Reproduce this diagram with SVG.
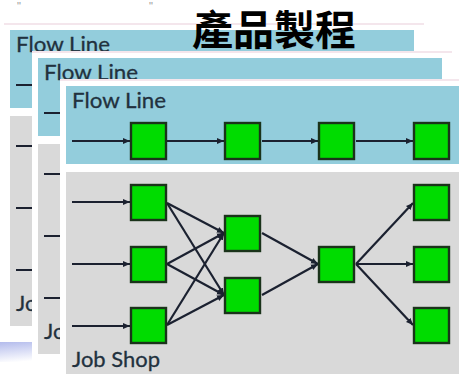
<svg xmlns="http://www.w3.org/2000/svg" xmlns:xlink="http://www.w3.org/1999/xlink" width="459" height="374" viewBox="0 0 459 374">
  <defs>
    <style>
      .frame { fill: #ffffff; }
      .rim { fill: #f4e6ec; }
      .band { fill: #93cddc; }
      .body { fill: #d9d9d9; }
      .lbl { font-family: Lato, "Liberation Sans", Arial, sans-serif; font-size: 22px; fill: #22313e; stroke: #22313e; stroke-width: 0.3; }
      .title { font-family: "Liberation Sans", "Noto Sans CJK TC", sans-serif; font-size: 41px; font-weight: 700; fill: #000000; }
      .tick { font-family: "Liberation Sans", sans-serif; font-size: 11px; fill: #9a9a9a; }
      .wire { stroke: #1b2130; stroke-width: 2.2; fill: none; }
      .stub { stroke: #1b2130; stroke-width: 2.2; }
      .box rect { fill: #00dc00; stroke: #1a331a; stroke-width: 2.4; }
    </style>
    <marker id="arrow" markerUnits="userSpaceOnUse" markerWidth="7" markerHeight="7" refX="7" refY="3.5" orient="auto">
      <path d="M0,0.5 L7,3.5 L0,6.5 z" fill="#1b2130"/>
    </marker>
    <linearGradient id="fade" x1="0" y1="0" x2="0.3" y2="1">
      <stop offset="0" stop-color="#b3bbec"/>
      <stop offset="1" stop-color="#ffffff"/>
    </linearGradient>
    <!-- shared slide card: white frame, blue header band, grey body -->
    <g id="card">
      <rect class="frame" x="0" y="0" width="420" height="310"/>
      <rect class="rim" x="0" y="0" width="420" height="2"/>
      <rect class="band" x="6" y="7" width="404" height="78"/>
      <rect class="body" x="6" y="93" width="404" height="210"/>
    </g>
  </defs>

  <rect width="459" height="374" fill="#ffffff"/>

  <!-- small marks along the top edge -->
  <text class="tick" x="17" y="10">"</text>
  <text class="tick" x="149" y="10">"</text>

  <!-- soft bar under the stack -->
  <rect x="0" y="342" width="64" height="20" fill="url(#fade)"/>

  <!-- back card -->
  <g id="card-back">
    <use xlink:href="#card" x="4" y="23"/>
    <text class="lbl" x="16" y="52" textLength="94" lengthAdjust="spacingAndGlyphs">Flow Line</text>
    <line class="stub" x1="16" y1="85" x2="60" y2="85"/>
    <line class="stub" x1="16" y1="146" x2="60" y2="146"/>
    <line class="stub" x1="16" y1="208" x2="60" y2="208"/>
    <line class="stub" x1="16" y1="270" x2="60" y2="270"/>
    <text class="lbl" x="16" y="311" textLength="88" lengthAdjust="spacingAndGlyphs">Job Shop</text>
  </g>

  <!-- middle card -->
  <g id="card-middle">
    <use xlink:href="#card" x="32" y="51"/>
    <text class="lbl" x="44" y="80" textLength="94" lengthAdjust="spacingAndGlyphs">Flow Line</text>
    <line class="stub" x1="44" y1="113" x2="90" y2="113"/>
    <line class="stub" x1="44" y1="174" x2="90" y2="174"/>
    <line class="stub" x1="44" y1="236" x2="90" y2="236"/>
    <line class="stub" x1="44" y1="298" x2="90" y2="298"/>
    <text class="lbl" x="44" y="339" textLength="88" lengthAdjust="spacingAndGlyphs">Job Shop</text>
  </g>

  <!-- front card -->
  <g id="card-front">
    <use xlink:href="#card" x="60" y="79"/>
    <text class="lbl" x="72" y="108" textLength="94" lengthAdjust="spacingAndGlyphs">Flow Line</text>
    <text class="lbl" x="72" y="367" textLength="88" lengthAdjust="spacingAndGlyphs">Job Shop</text>
  </g>

  <!-- connectors -->
  <g id="connectors" class="wire" marker-end="url(#arrow)">
    <!-- flow line -->
    <line x1="72" y1="141" x2="130" y2="141"/>
    <line x1="167" y1="141" x2="224" y2="141"/>
    <line x1="262" y1="141" x2="318" y2="141"/>
    <line x1="356" y1="141" x2="413" y2="141"/>
    <!-- job shop inputs -->
    <line x1="72" y1="202" x2="130" y2="202"/>
    <line x1="72" y1="264" x2="130" y2="264"/>
    <line x1="72" y1="326" x2="130" y2="326"/>
    <!-- column 1 to column 2 -->
    <line x1="167" y1="203" x2="224" y2="233"/>
    <line x1="167" y1="203" x2="224" y2="295"/>
    <line x1="167" y1="264" x2="224" y2="233"/>
    <line x1="167" y1="264" x2="224" y2="295"/>
    <line x1="167" y1="325" x2="224" y2="233"/>
    <line x1="167" y1="325" x2="224" y2="295"/>
    <!-- column 2 to centre -->
    <line x1="262" y1="233" x2="318" y2="264"/>
    <line x1="262" y1="295" x2="318" y2="264"/>
    <!-- centre to outputs -->
    <line x1="356" y1="264" x2="413" y2="203"/>
    <line x1="356" y1="264" x2="413" y2="264"/>
    <line x1="356" y1="264" x2="413" y2="325"/>
  </g>

  <!-- flow line stations -->
  <g id="flow-1" class="box"><rect x="131" y="123" width="35" height="36"/></g>
  <g id="flow-2" class="box"><rect x="225" y="123" width="35" height="36"/></g>
  <g id="flow-3" class="box"><rect x="319" y="123" width="35" height="36"/></g>
  <g id="flow-4" class="box"><rect x="414" y="123" width="35" height="36"/></g>

  <!-- job shop stations -->
  <g id="job-a1" class="box"><rect x="131" y="185" width="35" height="35"/></g>
  <g id="job-a2" class="box"><rect x="131" y="247" width="35" height="35"/></g>
  <g id="job-a3" class="box"><rect x="131" y="308" width="35" height="35"/></g>
  <g id="job-b1" class="box"><rect x="225" y="216" width="35" height="35"/></g>
  <g id="job-b2" class="box"><rect x="225" y="278" width="35" height="35"/></g>
  <g id="job-c" class="box"><rect x="319" y="247" width="35" height="35"/></g>
  <g id="job-d1" class="box"><rect x="414" y="185" width="35" height="35"/></g>
  <g id="job-d2" class="box"><rect x="414" y="247" width="35" height="35"/></g>
  <g id="job-d3" class="box"><rect x="414" y="308" width="35" height="35"/></g>

  <!-- heading -->
  <text class="title" x="192" y="45">產品製程</text>
</svg>
